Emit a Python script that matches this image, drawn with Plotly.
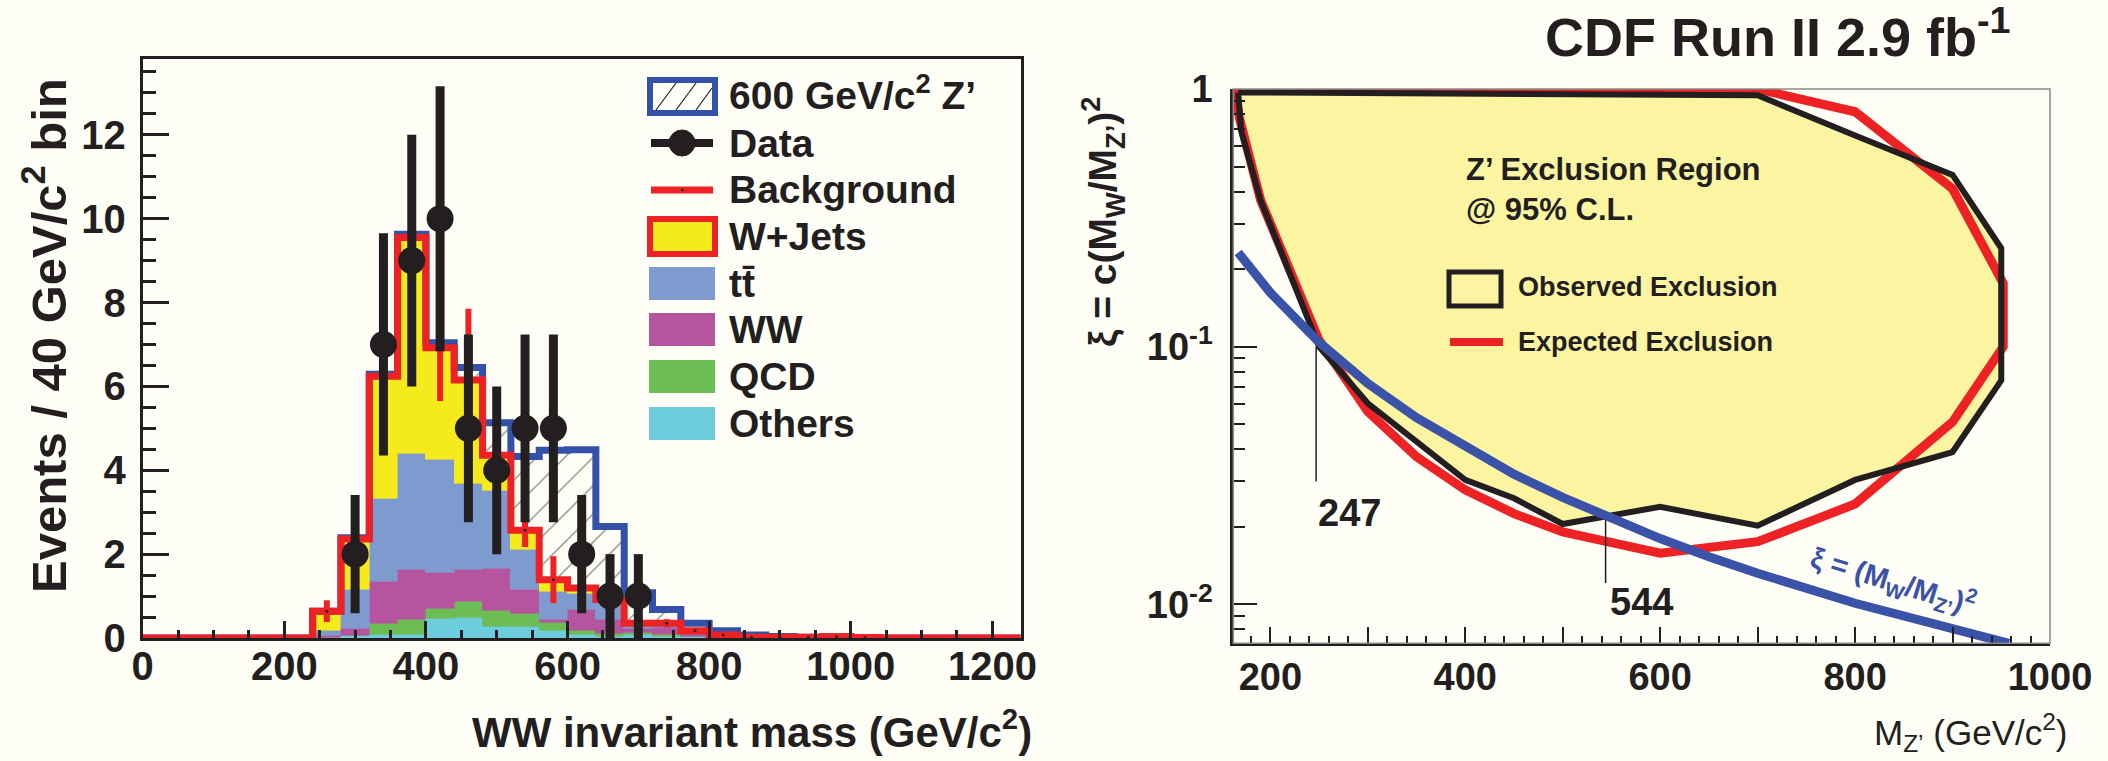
import numpy as np
import plotly.graph_objects as go

W, H = 2108, 761
BG = "#fefef6"
INK = "#231f20"
RED = "#ee2224"
YELLOW = "#f5ea1c"
TTBAR = "#7e9bd0"
WWCOL = "#b6559f"
QCDCOL = "#6cbd54"
OTHCOL = "#6ecddc"
ZBLUE = "#3351a8"
PALE = "#fbf5a2"
CURVE = "#3a52a8"
SANS = "Liberation Sans, Arial, Helvetica, sans-serif"
NARROW = "Liberation Sans Narrow, Arial Narrow, Liberation Sans, sans-serif"

# ---------------- WW invariant mass histogram (40 GeV/c^2 bins) ----------------
bin_edges = list(range(0, 1241, 40))
others = [0] * 6 + [0.02, 0.07, 0.08, 0.10, 0.48, 0.50, 0.28, 0.29, 0.18, 0.10, 0.05, 0.08, 0.05, 0.03,
                    0.01, 0.005, 0.003, 0.003, 0.005, 0.002, 0, 0, 0, 0, 0]
qcd = [0] * 6 + [0.0, 0.0, 0.26, 0.34, 0.24, 0.37, 0.38, 0.31, 0.19, 0.08, 0.07, 0.05, 0.05, 0.02,
                 0.01, 0.003, 0.002, 0.002, 0.005, 0.002, 0, 0, 0, 0, 0]
ww = [0] * 6 + [0.05, 0.17, 1.01, 1.19, 0.85, 0.78, 1.01, 0.57, 0.08, 0.50, 0.32, 0.10, 0.15, 0.06,
                0.02, 0.006, 0.005, 0.005, 0.010, 0.003, 0, 0, 0, 0, 0]
ttbar = [0] * 6 + [0.12, 0.93, 1.99, 2.77, 2.68, 2.03, 1.85, 0.94, 0.66, 0.39, 0.42, 0.10, 0.08, 0.05,
                   0.03, 0.006, 0.005, 0.005, 0.010, 0.003, 0, 0, 0, 0, 0]
wjets = [0] * 6 + [0.45, 1.19, 2.90, 5.15, 2.67, 2.47, 0.84, 0.46, 0.28, 0.12, 0.06, 0.02, 0.02, 0.01,
                   0.0, 0, 0, 0, 0, 0, 0, 0, 0, 0, 0]
zprime = [0] * 7 + [0.03, 0.05, 0.08, 0.12, 0.30, 0.77, 1.76, 3.09, 3.30, 1.74, 0.73, 0.33, 0.18,
                    0.10, 0.05, 0.02, 0, 0, 0, 0, 0, 0, 0, 0]
bkg_err = [0] * 6 + [0.26, 0.55, 1.0, 1.9, 1.27, 1.7, 0.9, 0.4, 0.56, 0.3, 0.25, 0.12, 0.1, 0.06,
                     0.04, 0.02, 0.02, 0.02, 0.02, 0.02, 0, 0, 0, 0, 0]

data_mass = [300, 340, 380, 420, 460, 500, 540, 580, 620, 660, 700]
data_events = [2, 7, 9, 10, 5, 4, 5, 5, 2, 1, 1]
data_err = [1.41, 2.65, 3.0, 3.16, 2.24, 2.0, 2.24, 2.24, 1.41, 1.0, 1.0]

x_ticks_left = [0, 200, 400, 600, 800, 1000, 1200]
y_ticks_left = [0, 2, 4, 6, 8, 10, 12]

# ---------------- Z' exclusion contours in (M_Z', xi) ----------------
obs_mass = [167, 700, 800, 900, 950, 950, 900, 800, 700, 600, 500, 450, 400, 300, 250, 190, 170, 167]
obs_xi = [0.97, 0.945, 0.66, 0.464, 0.241, 0.074, 0.039, 0.0304, 0.0202, 0.0239, 0.0205, 0.0258,
          0.0304, 0.0603, 0.100, 0.37, 0.69, 0.97]
exp_mass = [164, 700, 800, 900, 952, 952, 900, 800, 700, 600, 500, 450, 400, 350, 300, 250, 190, 168, 164]
exp_xi = [1.0, 1.0, 0.816, 0.41, 0.176, 0.10, 0.051, 0.0245, 0.0175, 0.0158, 0.0191, 0.0225, 0.0278,
          0.0374, 0.056, 0.106, 0.371, 0.78, 1.0]
ref_mass = [167, 200, 250, 300, 350, 400, 450, 500, 550, 600, 650, 700, 800, 900, 958]
ref_xi = [0.232, 0.162, 0.104, 0.072, 0.053, 0.041, 0.032, 0.026, 0.0214, 0.018, 0.0153, 0.0132,
          0.0101, 0.0080, 0.00705]
limit_mass = [247, 544]
limit_top = [0.100, 0.0218]
limit_bottom = [0.030, 0.0121]
x_ticks_right = [200, 300, 400, 500, 600, 700, 800, 900, 1000]
y_ticks_right = [0.01, 0.1, 1]


def px(x):
    return x / W


def py(y):
    return 1 - y / H


edges = np.array(bin_edges, dtype=float)
centers = (edges[:-1] + edges[1:]) / 2
bkg_total = np.sum([others, qcd, ww, ttbar, wjets], axis=0)
sig_total = bkg_total + np.array(zprime)

fig = go.Figure()

for vals, col in [(others, OTHCOL), (qcd, QCDCOL), (ww, WWCOL), (ttbar, TTBAR), (wjets, YELLOW)]:
    fig.add_trace(go.Bar(x=centers, y=vals, width=40, marker=dict(color=col, line=dict(width=0.6, color=col)),
                         xaxis="x", yaxis="y", showlegend=False, hoverinfo="skip"))
fig.add_trace(go.Bar(x=centers, y=zprime, width=40,
                     marker=dict(color=BG, line=dict(width=0),
                                 pattern=dict(shape="/", fgcolor=INK, bgcolor=BG, size=20, solidity=0.07)),
                     xaxis="x", yaxis="y", showlegend=False, hoverinfo="skip"))

# step outlines: signal+background (blue), background (red)
fig.add_trace(go.Scatter(x=edges, y=list(sig_total) + [sig_total[-1]], mode="lines", line_shape="hv",
                         line=dict(color=ZBLUE, width=7), xaxis="x", yaxis="y", showlegend=False))
fig.add_trace(go.Scatter(x=edges, y=list(bkg_total) + [bkg_total[-1]], mode="lines", line_shape="hv",
                         line=dict(color=RED, width=7), xaxis="x", yaxis="y", showlegend=False))
sel = [i for i in range(len(centers)) if 6 <= i <= 25]
fig.add_trace(go.Scatter(x=centers[sel], y=bkg_total[sel], mode="markers",
                         marker=dict(size=3, color=INK),
                         error_y=dict(type="data", array=[bkg_err[i] for i in sel], color=RED, thickness=6, width=0),
                         xaxis="x", yaxis="y", showlegend=False))
fig.add_trace(go.Scatter(x=data_mass, y=data_events, mode="markers",
                         marker=dict(size=27, color=INK),
                         error_y=dict(type="data", array=data_err, color=INK, thickness=9, width=0),
                         xaxis="x", yaxis="y", showlegend=False))

# ---- right panel ----
fig.add_trace(go.Scatter(x=obs_mass, y=obs_xi, mode="lines", fill="toself", fillcolor=PALE,
                         line=dict(width=0, color=PALE), xaxis="x2", yaxis="y2", showlegend=False))
fig.add_trace(go.Scatter(x=exp_mass, y=exp_xi, mode="lines", line=dict(color=RED, width=9),
                         xaxis="x2", yaxis="y2", showlegend=False))
fig.add_trace(go.Scatter(x=obs_mass, y=obs_xi, mode="lines", line=dict(color=INK, width=6),
                         xaxis="x2", yaxis="y2", showlegend=False))
for m, top, bot in zip(limit_mass, limit_top, limit_bottom):
    fig.add_trace(go.Scatter(x=[m, m], y=[top, bot], mode="lines", line=dict(color=INK, width=1.5),
                             xaxis="x2", yaxis="y2", showlegend=False))
fig.add_trace(go.Scatter(x=ref_mass, y=ref_xi, mode="lines", line=dict(color=CURVE, width=9),
                         xaxis="x2", yaxis="y2", showlegend=False))

shapes = []
annotations = []

# right frame (thin) around the exclusion plot
shapes.append(dict(type="rect", xref="paper", yref="paper", x0=px(1233.3), x1=px(2050), y0=py(643.3), y1=py(89),
                   line=dict(color="#8a8a8a", width=1.5), layer="above"))


def text(x, y, s, size, family=SANS, color=INK, xanchor="left", yanchor="middle", angle=0, weight="bold"):
    annotations.append(dict(x=px(x), y=py(y), xref="paper", yref="paper", text=s, showarrow=False,
                            xanchor=xanchor, yanchor=yanchor, textangle=angle,
                            font=dict(family=family, size=size, color=color, weight=weight)))


# ---- left legend ----
LX0, LX1 = 650, 715
shapes.append(dict(type="rect", xref="paper", yref="paper", x0=px(LX0), x1=px(LX1), y0=py(113), y1=py(80),
                   line=dict(color=ZBLUE, width=6), fillcolor=BG))
for a, b in [((656, 110), (676, 83)), ((676, 110), (696, 83)), ((696, 110), (712, 88))]:
    shapes.append(dict(type="line", xref="paper", yref="paper", x0=px(a[0]), y0=py(a[1]), x1=px(b[0]), y1=py(b[1]),
                       line=dict(color=INK, width=1.2)))
text(727, 92, "600 GeV/c<sup>2</sup> Z’", 39)

shapes.append(dict(type="line", xref="paper", yref="paper", x0=px(651), x1=px(713), y0=py(143), y1=py(143),
                   line=dict(color=INK, width=8)))
shapes.append(dict(type="circle", xref="paper", yref="paper", x0=px(669), x1=px(695), y0=py(156), y1=py(130),
                   line=dict(color=INK, width=1), fillcolor=INK))
text(727, 143, "Data", 39)

shapes.append(dict(type="line", xref="paper", yref="paper", x0=px(651), x1=px(713), y0=py(190), y1=py(190),
                   line=dict(color=RED, width=7)))
shapes.append(dict(type="circle", xref="paper", yref="paper", x0=px(681), x1=px(683.5), y0=py(191.2), y1=py(188.8),
                   line=dict(color=INK, width=0), fillcolor=INK))
text(727, 190, "Background", 39)

shapes.append(dict(type="rect", xref="paper", yref="paper", x0=px(LX0), x1=px(LX1), y0=py(254), y1=py(219),
                   line=dict(color=RED, width=6), fillcolor=YELLOW))
text(727, 236, "W+Jets", 39)

for (y0, y1), col, lab in [((267, 300), TTBAR, "tt\u0304"), ((313, 346), WWCOL, "WW"),
                           ((360, 393), QCDCOL, "QCD"), ((407, 440), OTHCOL, "Others")]:
    shapes.append(dict(type="rect", xref="paper", yref="paper", x0=px(649), x1=px(715), y0=py(y1), y1=py(y0),
                       line=dict(width=0), fillcolor=col))
    text(727, (y0 + y1) / 2, lab, 39)

# ---- left titles ----
text(1034, 729, "WW invariant mass (GeV/c<sup>2</sup>)", 42, xanchor="right")
text(45, 336, "Events / 40 GeV/c<sup>2</sup> bin", 49, xanchor="center", angle=-90)

# ---- right panel texts ----
text(1778, 33, "CDF Run II 2.9 fb<sup>-1</sup>", 54, family=NARROW, xanchor="center")
text(1103, 222, "ξ = c(M<sub>W</sub>/M<sub>Z’</sub>)<sup>2</sup>", 39, xanchor="center", angle=-90)
text(2070, 732, "M<sub>Z’</sub> (GeV/c<sup>2</sup>)", 35, xanchor="right", weight="normal")
text(1464, 170, "Z’ Exclusion Region", 31, family=NARROW)
text(1464, 209, "@ 95% C.L.", 31, family=NARROW)
shapes.append(dict(type="rect", xref="paper", yref="paper", x0=px(1449), x1=px(1501), y0=py(306), y1=py(272),
                   line=dict(color=INK, width=5), fillcolor=PALE))
text(1516, 287, "Observed Exclusion", 27, family=NARROW)
shapes.append(dict(type="line", xref="paper", yref="paper", x0=px(1450), x1=px(1503), y0=py(342), y1=py(342),
                   line=dict(color=RED, width=8)))
text(1516, 342, "Expected Exclusion", 27, family=NARROW)
text(1316, 513, "247", 38, family=NARROW)
text(1608, 602, "544", 38, family=NARROW)
text(1893, 581, "ξ = (M<sub>W</sub>/M<sub>Z’</sub>)<sup>2</sup>", 29, family=NARROW, color=CURVE,
     xanchor="center", angle=17)

axis_font = dict(family=SANS, size=40, color=INK, weight="bold")
narrow_font = dict(family=NARROW, size=38, color=INK, weight="bold")

fig.update_layout(
    width=W, height=H, margin=dict(l=0, r=0, t=0, b=0),
    paper_bgcolor=BG, plot_bgcolor=BG,
    barmode="stack", bargap=0, showlegend=False,
    xaxis=dict(domain=[px(142.7), px(1020.7)], range=[0, 1240], tickvals=x_ticks_left,
               ticks="inside", ticklen=17, tickwidth=3, tickcolor=INK,
               minor=dict(dtick=50, ticklen=8, tickwidth=3, tickcolor=INK, ticks="inside"),
               showline=True, mirror=True, linecolor=INK, linewidth=3, showgrid=False, zeroline=False,
               tickfont=axis_font, ticklabelstandoff=-9, anchor="y", automargin=False),
    yaxis=dict(domain=[py(638), py(59.3)], range=[0, 13.8], tickvals=y_ticks_left,
               ticks="inside", ticklen=26, tickwidth=3, tickcolor=INK,
               minor=dict(dtick=0.5, ticklen=13, tickwidth=3, tickcolor=INK, ticks="inside"),
               showline=True, mirror=True, linecolor=INK, linewidth=3, showgrid=False, zeroline=False,
               tickfont=axis_font, ticklabelstandoff=6, anchor="x", automargin=False),
    xaxis2=dict(domain=[px(1233.3), px(2050)], range=[162, 1000], tickvals=x_ticks_right,
                ticktext=[str(v) if v % 200 == 0 else "" for v in x_ticks_right],
                ticks="inside", ticklen=16, tickwidth=2, tickcolor=INK,
                minor=dict(dtick=20, ticklen=7, tickwidth=1.5, tickcolor=INK, ticks="inside"),
                showline=True, mirror=False, linecolor=INK, linewidth=3, showgrid=False, zeroline=False,
                tickfont=narrow_font, ticklabelstandoff=-2, anchor="y2", automargin=False),
    yaxis2=dict(domain=[py(643.3), py(89)], type="log", range=[np.log10(0.00706), 0],
                tickvals=y_ticks_right, ticktext=["10<sup>-2</sup>", "10<sup>-1</sup>", "1"],
                ticks="inside", ticklen=24, tickwidth=2, tickcolor=INK,
                minor=dict(tickvals=[k * 10.0 ** e for e in (-3, -2, -1) for k in range(2, 10)],
                           ticklen=12, tickwidth=1.5, tickcolor=INK, ticks="inside"),
                showline=True, mirror=False, linecolor=INK, linewidth=3, showgrid=False, zeroline=False,
                tickfont=narrow_font, ticklabelstandoff=10, anchor="x2", automargin=False),
    shapes=shapes, annotations=annotations,
)

fig.write_html("out.html")
